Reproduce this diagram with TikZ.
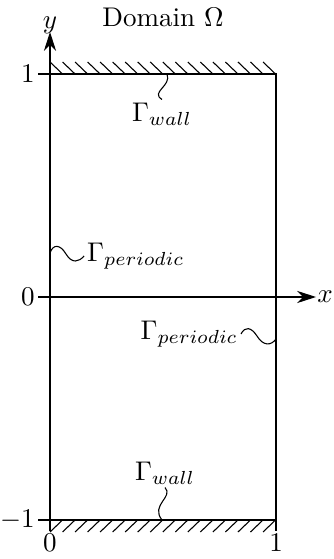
\documentclass[tikz,border=0pt]{standalone}
\usetikzlibrary{arrows.meta}
\begin{document}
\begin{tikzpicture}[x=0.37pt,y=-0.37pt,
  axisline/.style={line width=0.4pt,-{Stealth[length=7pt,width=4.5pt]}},
  tickline/.style={line width=0.4pt},
  hatchline/.style={line width=0.4pt},
  wiggle/.style={line width=0.4pt},
  boxline/.style={line width=0.85pt},
  lbl/.style={inner sep=1pt}]
\useasboundingbox (0,0) rectangle (333,559);
% corners
\coordinate (BL) at (50,520);
\coordinate (BR) at (276,520);
\coordinate (TL) at (50,74);
\coordinate (TR) at (276,74);
\coordinate (O) at (50,297);
% axes
\coordinate (yend) at (50,32);
\coordinate (xend) at (316,297);
\draw[axisline] (50,531) -- (yend);
\draw[axisline] (O) -- (xend);
\node[lbl,anchor=south] (ylab) at ([yshift=-2]yend) {$y$};
\node[inner sep=0.3pt,anchor=west] (xlab) at (xend) {$x$};
% ticks
\draw[tickline] (38,74) -- (TL);
\draw[tickline] (38,297) -- (O);
\draw[tickline] (38,520) -- (BL);
\draw[tickline] (276,520) -- (276,531);
\node[lbl,anchor=east] (t1) at (38,74) {$1$};
\node[lbl,anchor=east] (t0) at (38,297) {$0$};
\node[lbl,anchor=east] (tm1) at (38,520) {$-1$};
\node[lbl,anchor=north] (x0) at (50,531) {$0$};
\node[lbl,anchor=north] (x1) at (276,531) {$1$};
% title
\node[lbl] (title) at (163,17) {Domain $\Omega$};
% hatches
\foreach \k in {0,...,17}{
  \draw[hatchline] ({50+12.53*\k},62) -- ({62.5+12.53*\k},74);
  \draw[hatchline] ({50+12.53*\k},532) -- ({62.5+12.53*\k},520);
}
% box
\draw[boxline] (BL) -- (TL) -- (TR) -- (BR) -- cycle;
% labels
\node[lbl] (wtop) at (162,114) {$\Gamma_{wall}$};
\node[lbl] (wbot) at (165,473) {$\Gamma_{wall}$};
\node[lbl,anchor=west] (pl) at (84,256) {$\Gamma_{periodic}$};
\node[lbl,anchor=east] (pr) at (241,334) {$\Gamma_{periodic}$};
% wiggly connectors
\coordinate (wt) at (167,74);
\coordinate (wb) at (162,520);
\coordinate (plc) at (50,253);
\coordinate (prc) at (276,339);
\draw[wiggle] (wt) .. controls (172,86) and (150,92) .. (wtop.north);
\draw[wiggle] (wbot.south) .. controls (174,497) and (150,505) .. (wb);
\draw[wiggle] (plc) .. controls (53,244) and (60,244) .. (66,254) .. controls (72,264) and (79,262) .. (pl.west);
\draw[wiggle] (pr.east) .. controls (245,326) and (251,327) .. (257,336) .. controls (263,346) and (271,346) .. (prc);
\end{tikzpicture}
\end{document}
